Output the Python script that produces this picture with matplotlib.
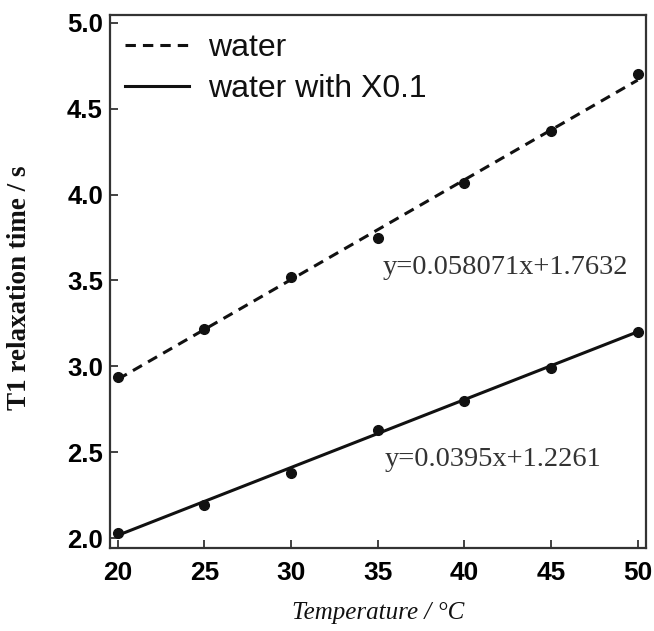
"""T1 relaxation time vs temperature: water and water with X0.1, with linear fits."""
import matplotlib

matplotlib.use("Agg")
import matplotlib.pyplot as plt
import numpy as np

temperature = [20, 25, 30, 35, 40, 45, 50]
t1_water = [2.94, 3.22, 3.52, 3.75, 4.07, 4.37, 4.70]
t1_x01 = [2.03, 2.19, 2.38, 2.63, 2.80, 2.99, 3.20]

# linear fit coefficients printed on the chart (slope, intercept)
fit_water = (0.058071, 1.7632)
fit_x01 = (0.0395, 1.2261)
eq_water = "y=0.058071x+1.7632"
eq_x01 = "y=0.0395x+1.2261"

x_ticks = [20, 25, 30, 35, 40, 45, 50]
y_ticks = [2.0, 2.5, 3.0, 3.5, 4.0, 4.5, 5.0]

SANS = "Liberation Sans"
SERIF = "Liberation Serif"
INK = "#111111"
SPINE = "#333333"

fig = plt.figure(figsize=(6.54, 6.31), dpi=100)
ax = fig.add_axes([0.168, 0.1315, 0.820, 0.845])

xs = np.array([temperature[0], temperature[-1]], dtype=float)

# fitted lines
ax.plot(xs, fit_water[0] * xs + fit_water[1], color=INK, lw=2.2,
        ls=(0, (3.4, 2.3)), label="water", solid_capstyle="butt")
ax.plot(xs, fit_x01[0] * xs + fit_x01[1], color=INK, lw=2.2, label="water with X0.1")

# data points
ax.plot(temperature, t1_water, "o", color=INK, ms=7, ls="none")
ax.plot(temperature, t1_x01, "o", color=INK, ms=7, ls="none")

ax.text(35.3, 3.54, eq_water, family=SERIF, fontsize=20.5, color="#333333",
        va="baseline", ha="left")
ax.text(35.4, 2.42, eq_x01, family=SERIF, fontsize=20.5, color="#333333",
        va="baseline", ha="left")

ax.set_xlim(19.54, 50.49)
ax.set_ylim(1.942, 5.047)
ax.set_xticks(x_ticks)
ax.set_yticks(y_ticks)
ax.set_xticklabels([str(v) for v in x_ticks], family=SANS, fontweight="bold", fontsize=19)
ax.set_yticklabels([f"{v:.1f}" for v in y_ticks], family=SANS, fontweight="bold", fontsize=18.5)
ax.tick_params(direction="in", length=6, width=1.3, color=SPINE, top=False, right=False)
ax.tick_params(axis="x", pad=9)
ax.tick_params(axis="y", pad=5)

for sp in ax.spines.values():
    sp.set_linewidth(1.6)
    sp.set_color(SPINE)

ax.set_xlabel("Temperature / °C", family=SERIF, style="italic", fontsize=18, color=INK)
ax.xaxis.set_label_coords(0.5, -0.101)
ax.set_ylabel("T1 relaxation time / s", family=SERIF, fontweight="bold", fontsize=19.5, color=INK)
ax.yaxis.set_label_coords(-0.146, 0.489)

leg = ax.legend(loc="upper left", bbox_to_anchor=(0.028, 0.965), frameon=False,
                prop={"family": SANS, "size": 23}, handlelength=2.0,
                handletextpad=0.6, labelspacing=0.33, borderpad=0, borderaxespad=0)
for t in leg.get_texts():
    t.set_color(INK)

fig.savefig("out.png", dpi=100)
plt.close(fig)
